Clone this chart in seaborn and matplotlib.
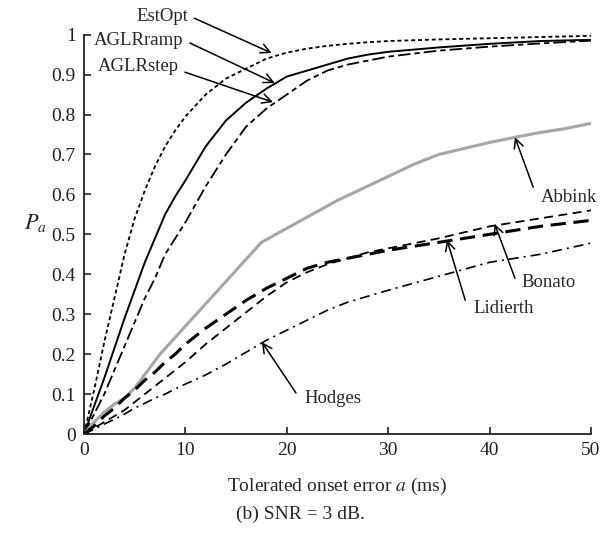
import numpy as np
import pandas as pd
import matplotlib
matplotlib.use("Agg")
import matplotlib.pyplot as plt
import seaborn as sns

# ---------------- data ----------------
x_grid = [0, 1, 2, 3, 4, 5, 6, 7, 8, 9, 10, 12, 14, 16, 18, 20, 22, 24, 26, 28, 30, 35, 40, 45, 50]
estopt = [0, 0.11, 0.23, 0.34, 0.45, 0.54, 0.61, 0.67, 0.72, 0.76, 0.795, 0.85, 0.89, 0.915, 0.94,
          0.955, 0.965, 0.972, 0.977, 0.981, 0.984, 0.988, 0.991, 0.994, 0.997]
aglr_ramp = [0, 0.07, 0.14, 0.215, 0.29, 0.36, 0.43, 0.49, 0.55, 0.595, 0.635, 0.72, 0.785, 0.83, 0.865,
             0.895, 0.91, 0.925, 0.94, 0.95, 0.957, 0.968, 0.977, 0.984, 0.987]
aglr_step = [0, 0.05, 0.10, 0.16, 0.22, 0.28, 0.34, 0.39, 0.45, 0.49, 0.53, 0.62, 0.70, 0.77, 0.815,
             0.85, 0.885, 0.91, 0.925, 0.935, 0.945, 0.96, 0.97, 0.978, 0.985]
lidierth = [0, 0.02, 0.045, 0.065, 0.09, 0.11, 0.135, 0.155, 0.18, 0.20, 0.225, 0.265, 0.30, 0.335, 0.365,
            0.39, 0.415, 0.43, 0.44, 0.45, 0.46, 0.48, 0.50, 0.52, 0.535]
bonato = [0, 0.015, 0.03, 0.045, 0.06, 0.08, 0.10, 0.12, 0.14, 0.16, 0.18, 0.225, 0.265, 0.305, 0.345,
          0.38, 0.405, 0.425, 0.44, 0.455, 0.465, 0.49, 0.52, 0.54, 0.56]
hodges = [0, 0.012, 0.025, 0.037, 0.05, 0.065, 0.077, 0.09, 0.10, 0.113, 0.125, 0.148, 0.175, 0.205, 0.235,
          0.26, 0.285, 0.31, 0.33, 0.345, 0.36, 0.395, 0.43, 0.45, 0.478]

abbink_x = [0, 1, 2, 3, 4, 5, 7.5, 10, 12.5, 15, 17.5, 20, 22.5, 25, 27.5, 30, 32.5, 35, 37.5, 40, 42.5, 45, 47.5, 50]
abbink = [0, 0.03, 0.055, 0.075, 0.09, 0.115, 0.20, 0.27, 0.34, 0.41, 0.48, 0.515, 0.55, 0.585, 0.615,
          0.645, 0.675, 0.70, 0.715, 0.73, 0.743, 0.755, 0.765, 0.778]

y_ticks = [0, 0.1, 0.2, 0.3, 0.4, 0.5, 0.6, 0.7, 0.8, 0.9, 1]
y_tick_labels = ["0", "0.1", "0.2", "0.3", "0.4", "0.5", "0.6", "0.7", "0.8", "0.9", "1"]
x_ticks = [0, 10, 20, 30, 40, 50]

# ---------------- style ----------------
sns.set_theme(style="ticks")
plt.rcParams["font.family"] = ["Liberation Serif", "DejaVu Serif"]
plt.rcParams["mathtext.fontset"] = "stix"
FS = 14
FS_ANN = 13.5

fig = plt.figure(figsize=(6.0, 5.33), dpi=100)
ax = fig.add_axes([0.14, 0.1857, 0.845, 0.7493])

series = [
    ("EstOpt", x_grid, estopt, dict(color="black", linewidth=1.3, linestyle=(0, (2.2, 1.6)))),
    ("AGLRramp", x_grid, aglr_ramp, dict(color="black", linewidth=1.4, linestyle="-")),
    ("AGLRstep", x_grid, aglr_step, dict(color="black", linewidth=1.3, linestyle=(0, (7, 2.2, 3, 2.2)))),
    ("Abbink", abbink_x, abbink, dict(color="#a3a7ab", linewidth=2.2, linestyle="-")),
    ("Lidierth", x_grid, lidierth, dict(color="black", linewidth=2.2, linestyle=(0, (5, 2.5)))),
    ("Bonato", x_grid, bonato, dict(color="black", linewidth=1.3, linestyle=(0, (5, 3)))),
    ("Hodges", x_grid, hodges, dict(color="black", linewidth=1.2, linestyle=(0, (6, 3, 1.2, 3)))),
]
for name, xs, ys, kw in series:
    df = pd.DataFrame({"x": xs, "y": ys})
    sns.lineplot(data=df, x="x", y="y", ax=ax, errorbar=None, **kw)

ax.set_xlim(0, 50)
ax.set_ylim(0, 1)
ax.set_xticks(x_ticks)
ax.set_xticklabels([str(v) for v in x_ticks], fontsize=FS)
ax.set_yticks(y_ticks)
ax.set_yticklabels(y_tick_labels, fontsize=FS)
ax.tick_params(direction="in", length=5, width=1.2, pad=6, colors="#222222")
for s in ["top", "right"]:
    ax.spines[s].set_visible(False)
for s in ["left", "bottom"]:
    ax.spines[s].set_linewidth(1.3)
    ax.spines[s].set_color("#222222")

ax.set_xlabel("Tolerated onset error $a$ (ms)", fontsize=FS)
ax.xaxis.set_label_coords(0.5, -(476 - 434) / 399.5)
ax.set_ylabel("$P_a$", fontsize=FS + 2, rotation=0, labelpad=0)
ax.yaxis.set_label_coords(-0.095, 0.5)

# ---------------- annotations ----------------
arrow_kw = dict(arrowstyle="->,head_length=0.55,head_width=0.28", color="black", lw=1.1,
                shrinkA=0, shrinkB=0)
labels = [
    ("EstOpt", (7.75, 1.046), (10.9, 1.041), (18.5, 0.954)),
    ("AGLRramp", (5.35, 0.986), (10.45, 0.979), (18.8, 0.879)),
    ("AGLRstep", (5.4, 0.919), (9.96, 0.906), (18.64, 0.831)),
    ("Abbink", (47.8, 0.593), (44.3, 0.618), (42.5, 0.743)),
    ("Bonato", (45.8, 0.38), (42.5, 0.39), (40.5, 0.526)),
    ("Lidierth", (41.4, 0.315), (37.6, 0.335), (35.8, 0.486)),
    ("Hodges", (24.6, 0.09), (20.9, 0.103), (17.55, 0.23)),
]
for text, tpos, start, tip in labels:
    ax.text(tpos[0], tpos[1], text, ha="center", va="center", fontsize=FS_ANN, clip_on=False)
    ax.annotate("", xy=tip, xytext=start, arrowprops=arrow_kw, annotation_clip=False)

fig.text(0.5, 1 - 514 / 533, "(b) SNR = 3 dB.", ha="center", va="center", fontsize=FS)

fig.savefig("out.png", dpi=100)
